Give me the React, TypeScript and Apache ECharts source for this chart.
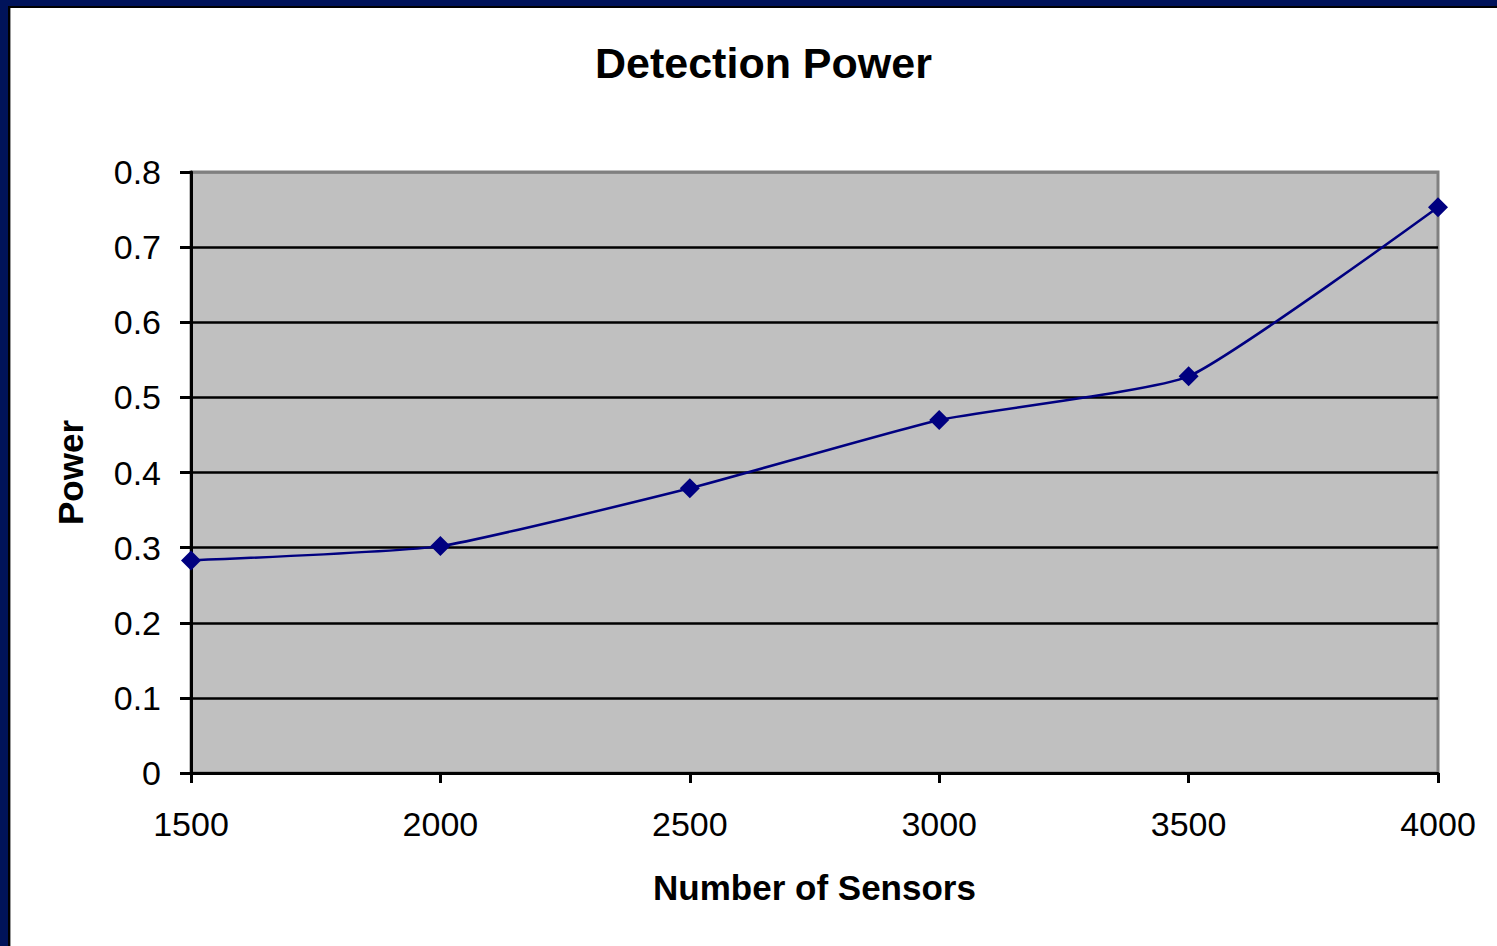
import React, { useEffect, useRef } from "react";
import * as echarts from "echarts";

const sensors = [1500, 2000, 2500, 3000, 3500, 4000];
const power = [0.283, 0.302, 0.379, 0.47, 0.528, 0.753];
const titleText = "Detection Power";
const xName = "Number of Sensors";
const yName = "Power";

export default function App() {
  const ref = useRef<HTMLDivElement>(null);
  useEffect(() => {
    document.body.style.margin = "0";
    const chart = echarts.init(ref.current!, null, { renderer: "svg" });
    const font = "'Liberation Sans', Arial, sans-serif";
    chart.setOption({
      animation: false,
      backgroundColor: "#ffffff",
      title: {
        text: titleText,
        left: 590,
        top: 36,
        textStyle: { fontFamily: font, fontSize: 43, fontWeight: "bold", color: "#000" },
      },
      grid: {
        left: 191,
        top: 172,
        width: 1247,
        height: 601,
        show: true,
        backgroundColor: "#C0C0C0",
        borderColor: "#808080",
        borderWidth: 3,
      },
      xAxis: {
        type: "value",
        min: 1500,
        max: 4000,
        interval: 500,
        name: xName,
        nameLocation: "middle",
        nameGap: 97,
        nameTextStyle: { fontFamily: font, fontSize: 35, fontWeight: "bold", color: "#000" },
        axisLine: { show: true, lineStyle: { color: "#000", width: 3 } },
        axisTick: { show: true, length: 10, lineStyle: { color: "#000", width: 3 } },
        axisLabel: { margin: 34, fontFamily: font, fontSize: 34, color: "#000", formatter: (v: number) => String(v) },
        splitLine: { show: false },
      },
      yAxis: {
        type: "value",
        min: 0,
        max: 0.8,
        interval: 0.1,
        name: yName,
        nameLocation: "middle",
        nameGap: 103,
        nameTextStyle: { fontFamily: font, fontSize: 35, fontWeight: "bold", color: "#000" },
        axisLine: { show: true, lineStyle: { color: "#000", width: 3 } },
        axisTick: { show: true, length: 11, lineStyle: { color: "#000", width: 3 } },
        axisLabel: { margin: 30, fontFamily: font, fontSize: 34, color: "#000" },
        splitLine: {
          show: true,
          lineStyle: {
            color: ["#000", "#000", "#000", "#000", "#000", "#000", "#000", "#000", "#808080"],
            width: 2.5,
          },
        },
      },
      graphic: [
        { type: "rect", shape: { x: 0, y: 0, width: 1497, height: 6 }, style: { fill: "#00135A" }, z: 100 },
        { type: "rect", shape: { x: 0, y: 0, width: 8, height: 946 }, style: { fill: "#00135A" }, z: 100 },
        { type: "rect", shape: { x: 8, y: 6, width: 1489, height: 2 }, style: { fill: "#000" }, z: 100 },
        { type: "rect", shape: { x: 8, y: 6, width: 2, height: 940 }, style: { fill: "#000" }, z: 100 },
        { type: "rect", shape: { x: 10, y: 8, width: 1, height: 938 }, style: { fill: "#999" }, z: 100 },
      ],
      series: [
        {
          type: "line",
          data: sensors.map((s, i) => [s, power[i]]),
          smooth: 0.15,
          symbol: "diamond",
          symbolSize: 20,
          itemStyle: { color: "#000080" },
          lineStyle: { color: "#000080", width: 2.5 },
          z: 10,
        },
      ],
    });
    return () => chart.dispose();
  }, []);
  return <div ref={ref} style={{ position: "absolute", left: 0, top: 0, width: 1497, height: 946 }} />;
}
